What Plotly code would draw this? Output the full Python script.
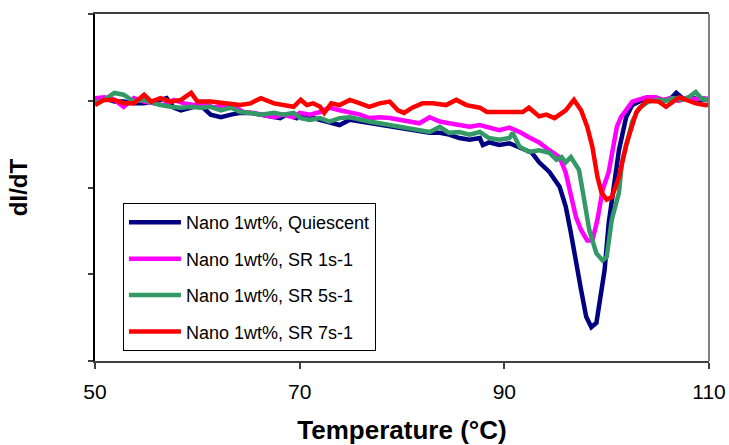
import plotly.graph_objects as go

# Temperature (°C) and dI/dT (arbitrary units)
t_q = [50.0, 50.9, 51.9, 52.8, 53.8, 54.8, 56.4, 57.0, 57.7, 58.4, 59.4, 60.3, 61.3, 62.3, 63.3, 64.2,
       65.2, 66.2, 67.2, 68.1, 68.7, 69.7, 70.0, 71.0, 72.0, 72.9, 73.9, 74.9, 75.9, 76.8, 77.8, 78.8,
       79.8, 80.7, 81.7, 82.7, 83.7, 84.6, 85.6, 86.6, 87.6, 87.9, 88.5, 89.5, 90.5, 91.5, 92.7, 93.4,
       94.4, 95.4, 96.0, 96.5, 97.0, 97.5, 98.0, 98.5, 99.0, 99.3, 99.8, 100.2, 100.9, 101.2, 101.9,
       102.5, 103.5, 104.5, 105.5, 106.3, 106.8, 107.5, 108.3, 109.0, 110.0]
v_q = [3.03, 3.03, 2.99, 2.99, 2.97, 2.97, 3.01, 3.03, 2.92, 2.89, 2.92, 2.95, 2.84, 2.81, 2.84, 2.86,
       2.86, 2.84, 2.81, 2.80, 2.84, 2.80, 2.84, 2.81, 2.78, 2.74, 2.72, 2.78, 2.76, 2.74, 2.72, 2.70,
       2.69, 2.66, 2.64, 2.63, 2.63, 2.61, 2.57, 2.55, 2.57, 2.49, 2.52, 2.49, 2.51, 2.46, 2.40, 2.29,
       2.18, 2.01, 1.78, 1.48, 1.13, 0.82, 0.51, 0.39, 0.44, 0.67, 1.05, 1.59, 2.17, 2.43, 2.81,
       2.95, 3.01, 3.02, 3.00, 3.03, 3.09, 3.02, 3.04, 3.01, 3.02]

t_1 = [50.0, 50.9, 51.9, 52.8, 53.8, 54.8, 55.8, 56.7, 57.7, 58.7, 59.7, 60.6, 61.6, 62.6, 63.6, 64.5,
       65.5, 66.5, 67.5, 68.4, 69.4, 70.0, 71.0, 72.0, 72.9, 73.9, 74.9, 75.9, 76.8, 77.8, 78.8, 79.8,
       80.7, 81.7, 82.7, 83.7, 84.6, 85.6, 86.6, 87.6, 88.5, 89.5, 90.5, 91.5, 92.4, 93.4, 94.4, 95.4,
       96.0, 96.5, 97.0, 97.5, 98.1, 98.6, 99.1, 99.6, 100.2, 101.0, 101.4, 102.5, 103.9, 104.8, 105.5,
       106.3, 107.0, 107.8, 108.7, 109.5, 110.0]
v_1 = [3.03, 3.04, 3.01, 2.93, 3.03, 2.99, 2.97, 2.95, 3.01, 2.97, 2.95, 2.97, 2.92, 2.95, 2.93, 2.87,
       2.86, 2.84, 2.81, 2.84, 2.81, 2.86, 2.84, 2.87, 2.92, 2.89, 2.87, 2.84, 2.80, 2.81, 2.80, 2.78,
       2.76, 2.74, 2.81, 2.76, 2.74, 2.72, 2.70, 2.72, 2.69, 2.66, 2.69, 2.64, 2.58, 2.52, 2.43, 2.35,
       2.17, 1.89, 1.66, 1.51, 1.39, 1.39, 1.63, 1.97, 2.18, 2.70, 2.81, 2.99, 3.04, 3.04, 3.01,
       3.03, 3.00, 3.03, 3.02, 3.03, 3.02]

t_5 = [50.0, 50.9, 51.9, 52.8, 53.8, 54.8, 55.8, 56.4, 57.4, 58.4, 59.4, 60.3, 61.3, 62.3, 63.3, 64.2,
       65.2, 66.2, 67.5, 68.4, 69.4, 70.1, 71.0, 72.0, 72.9, 73.9, 74.9, 75.9, 76.8, 77.8, 78.8, 79.8,
       80.7, 81.7, 82.7, 83.7, 84.6, 85.6, 86.6, 87.6, 88.5, 89.5, 90.5, 90.8, 91.5, 92.4, 93.4, 94.4,
       95.1, 95.6, 96.0, 96.5, 97.3, 97.8, 98.3, 99.0, 99.6, 100.0, 100.5, 101.2, 101.5, 102.5, 103.2,
       104.1, 105.0, 105.8, 106.5, 107.3, 108.0, 108.7, 109.3, 110.0]
v_5 = [2.97, 3.01, 3.09, 3.07, 2.99, 3.01, 2.97, 2.95, 2.93, 2.92, 2.93, 2.92, 2.93, 2.89, 2.92, 2.87,
       2.86, 2.84, 2.86, 2.84, 2.86, 2.80, 2.78, 2.80, 2.76, 2.80, 2.81, 2.78, 2.76, 2.74, 2.72, 2.70,
       2.69, 2.66, 2.64, 2.70, 2.63, 2.64, 2.61, 2.64, 2.57, 2.55, 2.57, 2.63, 2.47, 2.41, 2.43, 2.40,
       2.32, 2.35, 2.29, 2.35, 2.20, 1.86, 1.51, 1.24, 1.16, 1.20, 1.63, 1.94, 2.29, 2.76, 2.92,
       2.99, 3.01, 3.00, 3.03, 3.01, 3.04, 3.10, 3.02, 3.01]

t_7 = [50.0, 50.9, 51.9, 52.8, 53.8, 54.8, 55.5, 56.4, 57.4, 58.4, 59.4, 60.0, 61.3, 62.9, 64.2, 65.2,
       66.2, 67.5, 68.7, 69.4, 70.1, 70.7, 71.3, 72.0, 72.4, 73.1, 73.9, 74.9, 75.9, 76.8, 77.8, 78.8,
       79.6, 80.2, 81.0, 82.0, 83.0, 84.3, 85.3, 86.3, 87.6, 88.3, 89.5, 90.5, 91.8, 92.4, 93.4, 94.1,
       94.9, 96.0, 96.8, 97.5, 98.1, 98.6, 99.1, 99.5, 100.0, 100.5, 100.9, 101.2, 101.9, 102.9, 103.9,
       105.1, 105.8, 107.1, 108.0, 108.7, 109.7, 110.0]
v_7 = [2.95, 3.01, 3.01, 2.97, 2.97, 3.07, 2.99, 3.03, 2.99, 3.01, 3.09, 2.99, 2.99, 2.97, 2.95, 2.97,
       3.03, 2.97, 2.95, 2.93, 3.01, 2.95, 2.97, 2.93, 2.86, 2.97, 2.95, 3.01, 2.97, 2.93, 2.97, 2.99,
       2.89, 2.86, 2.92, 2.97, 2.97, 2.95, 3.01, 2.95, 2.92, 2.87, 2.87, 2.87, 2.87, 2.92, 2.82, 2.84,
       2.80, 2.89, 3.01, 2.89, 2.70, 2.47, 2.12, 1.94, 1.86, 1.89, 2.03, 2.12, 2.49, 2.87, 3.00,
       2.99, 2.93, 3.04, 3.00, 2.97, 2.95, 2.96]

names = ["Nano 1wt%, Quiescent", "Nano 1wt%, SR 1s-1", "Nano 1wt%, SR 5s-1", "Nano 1wt%, SR 7s-1"]
colors = ["#000080", "#FF00FF", "#339966", "#FF0000"]
x_ticks = [50, 70, 90, 110]
y_ticks = [0, 1, 2, 3, 4]

FONT = "Arial, 'Liberation Sans', sans-serif"

fig = go.Figure()
for i, (t, v) in enumerate([(t_q, v_q), (t_1, v_1), (t_5, v_5), (t_7, v_7)]):
    fig.add_trace(go.Scatter(x=t, y=v, mode="lines", name=names[i], legendgroup=str(i),
                             line=dict(color=colors[i], width=4.5)))

fig.update_layout(
    width=729, height=445,
    margin=dict(l=95, r=20, t=14, b=84, autoexpand=False),
    paper_bgcolor="white", plot_bgcolor="white",
    font=dict(family=FONT, color="black"),
    showlegend=True,
    legend=dict(x=0.0455, y=0.455, xanchor="left", yanchor="top",
                bgcolor="white", bordercolor="black", borderwidth=1,
                font=dict(size=18, family=FONT), traceorder="grouped",
                tracegroupgap=10, itemwidth=52),
    xaxis=dict(range=[50, 110], tickvals=x_ticks, ticks="outside", ticklen=6,
               tickcolor="#404040", tickwidth=1.5, automargin=False, ticklabelstandoff=5,
               showline=True, linecolor="#404040", linewidth=2, mirror=True,
               showgrid=False, zeroline=False, tickfont=dict(size=21),
               title=dict(text="<b>Temperature (°C)</b>", font=dict(size=26), standoff=20)),
    yaxis=dict(range=[0, 4], tickvals=y_ticks, ticks="outside", ticklen=5,
               tickcolor="#404040", tickwidth=1.5, showticklabels=False, automargin=False,
               showline=True, linecolor="black", linewidth=2,
               showgrid=False, zeroline=False,
               title=dict(text="<b>dI/dT</b>", font=dict(size=24), standoff=54)),
)
fig.add_shape(type="line", xref="paper", yref="paper", x0=1, x1=1, y0=0, y1=1,
              line=dict(color="#808080", width=2))

fig.write_html("out.html", config={"displayModeBar": False},
               post_script="document.body.style.margin='0';document.body.style.overflow='hidden';")
